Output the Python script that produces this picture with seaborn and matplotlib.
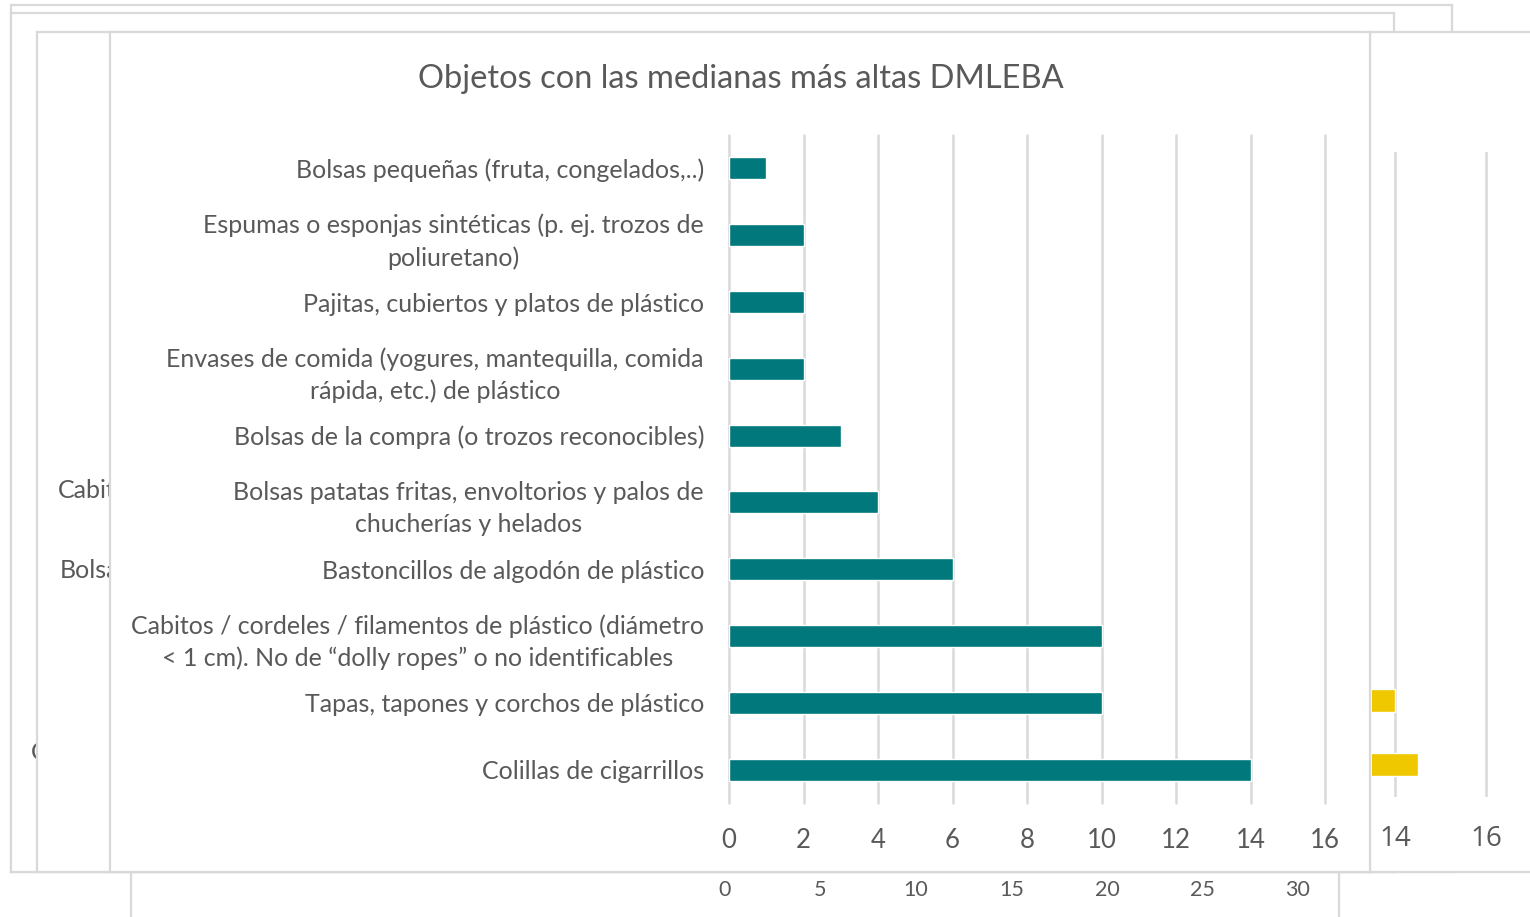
import matplotlib
matplotlib.use("Agg")
import matplotlib.pyplot as plt
import seaborn as sns
import pandas as pd

# ---------------- data ----------------
categories = [
    "Bolsas pequeñas (fruta, congelados,..)",
    "Espumas o esponjas sintéticas (p. ej. trozos de\npoliuretano)",
    "Pajitas, cubiertos y platos de plástico",
    "Envases de comida (yogures, mantequilla, comida\nrápida, etc.) de plástico",
    "Bolsas de la compra (o trozos reconocibles)",
    "Bolsas patatas fritas, envoltorios y palos de\nchucherías y helados",
    "Bastoncillos de algodón de plástico",
    "Cabitos / cordeles / filamentos de plástico (diámetro\n< 1 cm). No de “dolly ropes” o no identificables",
    "Tapas, tapones y corchos de plástico",
    "Colillas de cigarrillos",
]
medianas = [1, 2, 2, 2, 3, 4, 6, 10, 10, 14]
main_ticks = [0, 2, 4, 6, 8, 10, 12, 14, 16]

# partially visible chart on the right (only two bars visible)
right_categories = ["Tapas, tapones y corchos de plástico", "Colillas de cigarrillos"]
right_values = [14, 14.5]
right_ticks = [14, 16]

# partially visible chart below
bottom_ticks = [0, 5, 10, 15, 20, 25, 30]

title = "Objetos con las medianas más altas DMLEBA"

# ---------------- style ----------------
TEAL = "#00787C"
YELLOW = "#F0C800"
GRID = "#D9D9D9"
TXT = "#595959"
sns.set_theme(style="white")
plt.rcParams["font.family"] = ["Lato", "DejaVu Sans"]

W, H = 1530, 917
fig = plt.figure(figsize=(W / 100, H / 100), dpi=100)
fig.patch.set_facecolor("white")


def rect(x0, y0, x1, y1):
    return [x0 / W, 1 - y1 / H, (x1 - x0) / W, (y1 - y0) / H]


def frame(x0, y0, x1, y1, z):
    a = fig.add_axes(rect(x0, y0, x1, y1), zorder=z)
    a.set_xticks([])
    a.set_yticks([])
    a.set_facecolor("white")
    for s in a.spines.values():
        s.set_color(GRID)
        s.set_linewidth(1.6)
        s.set_visible(True)
    return a


# ---- frame below (partial chart with 0..30 axis) ----
frame(131, 600, 1339, 960, 0.1)
axb = fig.add_axes(rect(725, 876, 1298, 877), zorder=0.15)
axb.set_xlim(0, 30)
axb.set_xticks(bottom_ticks)
axb.set_xticklabels([str(t) for t in bottom_ticks])
axb.set_yticks([])
axb.tick_params(axis="x", length=0, pad=2, labelsize=15.5, labelcolor=TXT)
for s in axb.spines.values():
    s.set_visible(False)
axb.patch.set_alpha(0)

# ---- stacked frames behind ----
frame(11, 5, 1452, 872, 0.2)
frame(11, 13, 1394, 872, 0.3)
fig.text(31 / W, 1 - 752 / H, "C", fontsize=18, color=TXT, va="center", ha="left", zorder=0.35)
frame(37, 32, 1360, 872, 0.4)
fig.text(58 / W, 1 - 490 / H, "Cabitos", fontsize=18, color=TXT, va="center", ha="left", zorder=0.45)
fig.text(60 / W, 1 - 570 / H, "Bolsas", fontsize=18, color=TXT, va="center", ha="left", zorder=0.45)

# ---- right partial chart ----
frame(1370, 32, 1560, 872, 0.5)
axr = fig.add_axes(rect(1372, 152, 1530, 797), zorder=0.6)
dfr = pd.DataFrame({"cat": right_categories, "val": right_values})
sns.barplot(data=dfr, x="val", y="cat", orient="h", color=YELLOW, saturation=1,
            width=0.36, ax=axr)
axr.set_xlim(13.495, 16.967)
axr.set_ylim(1.5, -8.5)
axr.set_xticks(right_ticks)
axr.set_yticks([])
axr.set_xlabel("")
axr.set_ylabel("")
axr.set_axisbelow(True)
axr.xaxis.grid(True, color=GRID, linewidth=1.8)
axr.tick_params(axis="x", length=0, pad=20, labelsize=20, labelcolor=TXT)
for lab in axr.get_xticklabels():
    lab.set_family(["Open Sans", "DejaVu Sans"])
for s in axr.spines.values():
    s.set_visible(False)
axr.patch.set_alpha(0)

# ---- main chart panel ----
frame(110, 32, 1370, 872, 1)
ax = fig.add_axes(rect(729, 135, 1325, 803), zorder=2)
df = pd.DataFrame({"cat": categories, "val": medianas})
sns.barplot(data=df, x="val", y="cat", orient="h", color=TEAL, saturation=1,
            width=0.33, ax=ax)
ax.set_xlim(0, 16)
ax.set_ylim(9.5, -0.5)
ax.set_xticks(main_ticks)
ax.set_xticklabels([str(t) for t in main_ticks])
ax.set_xlabel("")
ax.set_ylabel("")
ax.set_axisbelow(True)
ax.xaxis.grid(True, color=GRID, linewidth=1.8)
ax.yaxis.grid(False)
for gl in ax.get_xgridlines():
    gl.set_clip_on(False)
ax.tick_params(axis="x", length=0, pad=18, labelsize=18.5, labelcolor=TXT)
ax.tick_params(axis="y", length=0, pad=18, labelsize=18, labelcolor=TXT)
for lab in ax.get_yticklabels():
    lab.set_multialignment("center")
    lab.set_linespacing(1.45)
for s in ax.spines.values():
    s.set_visible(False)
ax.patch.set_alpha(0)

fig.text(741 / W, 1 - 79 / H, title, fontsize=23.5, color=TXT, ha="center", va="center", zorder=3)

fig.savefig("out.png", dpi=100, facecolor="white")
